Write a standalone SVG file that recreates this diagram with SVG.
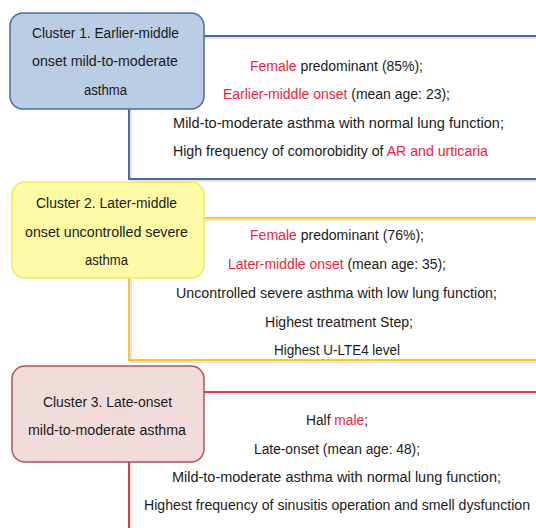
<svg xmlns="http://www.w3.org/2000/svg" width="536" height="528" viewBox="0 0 536 528">
<style>
.t{font-family:"Liberation Sans",Arial,sans-serif;font-size:14px;fill:#1a1a1a;}
.r{fill:#f5203a;}
.ln{fill:none;stroke-width:2;}
.sh{fill:none;stroke:#b0b0b0;stroke-width:1;opacity:0.7;}
</style>
<rect width="536" height="528" fill="#fff"/>
<g id="connectors">
  <path class="sh" d="M204,38 H536 M131,110 V181 H536"/>
  <path class="ln" stroke="#4c6a9c" d="M204,36 H536 M129,109 V179 H536"/>
  <path class="sh" d="M204,220 H536 M131,279 V362 H536"/>
  <path class="ln" stroke="#f9c440" d="M204,218 H536 M129,278 V360 H536"/>
  <path class="sh" d="M204,394 H536 M131,463 V528"/>
  <path class="ln" stroke="#c44a4f" d="M204,392 H536 M129,462 V528"/>
</g>
<g id="cluster1">
  <rect x="10" y="13" width="194" height="96" rx="13" fill="#b9cde5" stroke="#4a6d9e" stroke-width="1.5"/>
  <text class="t" x="32" y="38" textLength="147" lengthAdjust="spacingAndGlyphs">Cluster 1. Earlier-middle</text>
  <text class="t" x="32" y="66" textLength="146" lengthAdjust="spacingAndGlyphs">onset mild-to-moderate</text>
  <text class="t" x="84" y="95" textLength="43" lengthAdjust="spacingAndGlyphs">asthma</text>
</g>
<g id="cluster1-desc">
  <text class="t" x="250" y="71" textLength="173" lengthAdjust="spacingAndGlyphs"><tspan class="r">Female</tspan> predominant (85%);</text>
  <text class="t" x="223" y="99" textLength="227" lengthAdjust="spacingAndGlyphs"><tspan class="r">Earlier-middle onset</tspan> (mean age: 23);</text>
  <text class="t" x="173" y="128" textLength="331" lengthAdjust="spacingAndGlyphs">Mild-to-moderate asthma with normal lung function;</text>
  <text class="t" x="173" y="156" textLength="315" lengthAdjust="spacingAndGlyphs">High frequency of comorobidity of <tspan class="r">AR and urticaria</tspan></text>
</g>
<g id="cluster2">
  <rect x="12" y="182" width="192" height="96" rx="13" fill="#fefba6" stroke="#f6e75a" stroke-width="1.5"/>
  <text class="t" x="36" y="208" textLength="141" lengthAdjust="spacingAndGlyphs">Cluster 2. Later-middle</text>
  <text class="t" x="25" y="237" textLength="163" lengthAdjust="spacingAndGlyphs">onset uncontrolled severe</text>
  <text class="t" x="85" y="265" textLength="43" lengthAdjust="spacingAndGlyphs">asthma</text>
</g>
<g id="cluster2-desc">
  <text class="t" x="250" y="240" textLength="174" lengthAdjust="spacingAndGlyphs"><tspan class="r">Female</tspan> predominant (76%);</text>
  <text class="t" x="228" y="269" textLength="218" lengthAdjust="spacingAndGlyphs"><tspan class="r">Later-middle onset</tspan> (mean age: 35);</text>
  <text class="t" x="176" y="298" textLength="321" lengthAdjust="spacingAndGlyphs">Uncontrolled severe asthma with  low lung function;</text>
  <text class="t" x="265" y="327" textLength="148" lengthAdjust="spacingAndGlyphs">Highest treatment Step;</text>
  <text class="t" x="274" y="355" textLength="126" lengthAdjust="spacingAndGlyphs">Highest U-LTE4 level</text>
</g>
<g id="cluster3">
  <rect x="12" y="366" width="192" height="96" rx="13" fill="#f2dcdb" stroke="#b5525a" stroke-width="1.5"/>
  <text class="t" x="43" y="407" textLength="129" lengthAdjust="spacingAndGlyphs">Cluster 3. Late-onset</text>
  <text class="t" x="28" y="435" textLength="158" lengthAdjust="spacingAndGlyphs">mild-to-moderate asthma</text>
</g>
<g id="cluster3-desc">
  <text class="t" x="306" y="425" textLength="62" lengthAdjust="spacingAndGlyphs">Half <tspan class="r">male</tspan>;</text>
  <text class="t" x="254" y="454" textLength="166" lengthAdjust="spacingAndGlyphs">Late-onset (mean age: 48);</text>
  <text class="t" x="172" y="482" textLength="329" lengthAdjust="spacingAndGlyphs">Mild-to-moderate asthma with normal lung function;</text>
  <text class="t" x="144" y="510" textLength="386" lengthAdjust="spacingAndGlyphs">Highest frequency of sinusitis operation and smell dysfunction</text>
</g>
</svg>
